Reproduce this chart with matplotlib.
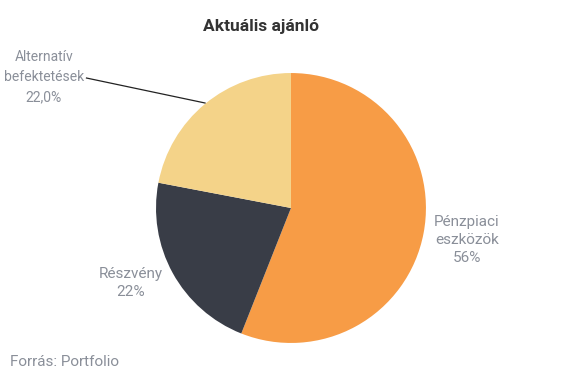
import matplotlib
matplotlib.use('Agg')
from matplotlib import pyplot as plt

labels = ['Pénzpiaci\neszközök\n56%', 'Részvény\n22%', 'Alternatív\nbefektetések\n22,0%']
values = [56, 22, 22]
colors = ['#F79C46', '#393D47', '#F4D389']

plt.rcParams['font.family'] = ['Roboto', 'DejaVu Sans']

fig = plt.figure(figsize=(5.83, 3.79), dpi=100)
ax = fig.add_axes([0.2676, 0.095, 0.463, 0.7124])

ax.pie(values, colors=colors, startangle=90, counterclock=False,
       radius=1, wedgeprops=dict(linewidth=0))
ax.set_xlim(-1, 1)
ax.set_ylim(-1, 1)
ax.set_aspect('equal')
ax.axis('off')

txt_color = '#8A8F99'
fs = 11
ls = 1.4
# label positions (data coords relative to pie)
ax.text(1.304, -0.237, labels[0], ha='center', va='center', fontsize=fs,
        color=txt_color, linespacing=ls, clip_on=False)
ax.text(-1.185, -0.556, labels[1], ha='center', va='center', fontsize=fs,
        color=txt_color, linespacing=ls, clip_on=False)
# this one sits near the left edge, squeeze it a bit
ax.text(-1.83, 0.97, labels[2], ha='center', va='center', fontsize=10,
        color=txt_color, linespacing=1.55, clip_on=False)
ax.plot([-1.515, -0.637], [0.963, 0.778], color='#222222', lw=0.9, clip_on=False)

fig.text(0.447, 0.93, 'Aktuális ajánló', ha='center', va='center',
         fontsize=12.5, fontweight='bold', color='#333333')
fig.text(0.017, 0.045, 'Forrás: Portfolio', ha='left', va='center',
         fontsize=fs, color=txt_color)

fig.savefig('out.png', dpi=100)
